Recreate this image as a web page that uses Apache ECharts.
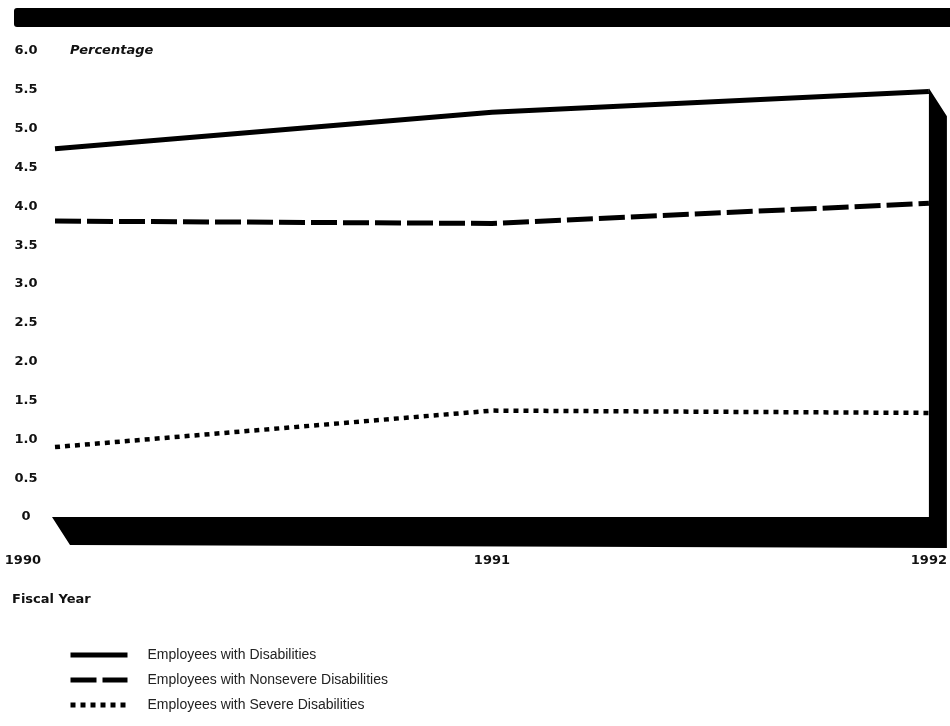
<!DOCTYPE html>
<html>
<head>
<meta charset="utf-8">
<script src="https://cdn.jsdelivr.net/npm/echarts@6/dist/echarts.min.js"></script>
<style>
  html, body { margin: 0; padding: 0; background: #fff; }
  #chart { width: 950px; height: 726px; }
</style>
</head>
<body>
<div id="chart"></div>
<script>
// fiscal years and percentages
var years = ['1990', '1991', '1992'];
var allDisabled = [4.74, 5.21, 5.48];
var nonsevere = [3.81, 3.78, 4.04];
var severe = [0.9, 1.37, 1.34];

var boldFont = '"DejaVu Sans", Verdana, sans-serif';
var font = '"Liberation Sans", Arial, sans-serif';

var chart = echarts.init(document.getElementById('chart'));

var option = {
  backgroundColor: '#fff',
  animation: false,
  color: ['#000', '#000', '#000'],
  title: {
    text: 'Fiscal Year',
    left: 7,
    top: 588,
    textStyle: { fontFamily: boldFont, fontSize: 13, fontWeight: 'bold', color: '#111' }
  },
  legend: {
    orient: 'vertical',
    left: 68,
    top: 648,
    padding: 0,
    itemWidth: 57,
    itemHeight: 14,
    itemGap: 11,
    itemStyle: { opacity: 0 },
    lineStyle: { width: 5 },
    textStyle: { fontFamily: font, fontSize: 14, color: '#222', padding: [0, 0, 0, 15] },
    data: ['Employees with Disabilities', 'Employees with Nonsevere Disabilities', 'Employees with Severe Disabilities']
  },
  grid: { left: 55, right: 20, top: 51, bottom: 209 },
  xAxis: {
    type: 'category',
    boundaryGap: false,
    data: [
      { value: years[0], textStyle: { align: 'right', padding: [0, 14, 0, 0] } },
      years[1],
      years[2]
    ],
    axisLine: { show: false },
    axisTick: { show: false },
    axisLabel: {
      margin: 37,
      fontFamily: boldFont, fontSize: 13, fontWeight: 'bold', color: '#111'
    }
  },
  yAxis: {
    type: 'value',
    min: 0,
    max: 6,
    interval: 0.5,
    name: 'Percentage',
    nameLocation: 'end',
    nameGap: 0,
    nameTextStyle: {
      fontFamily: boldFont, fontSize: 13, fontWeight: 'bold', fontStyle: 'italic', color: '#111',
      align: 'left', verticalAlign: 'middle', padding: [0, 0, 0, 15]
    },
    axisLine: { show: false },
    axisTick: { show: false },
    splitLine: { show: false },
    axisLabel: {
      margin: 29,
      align: 'center',
      fontFamily: boldFont, fontSize: 13, fontWeight: 'bold', color: '#111',
      formatter: function (v) { return v === 0 ? '0' : v.toFixed(1); }
    }
  },
  series: [
    {
      name: 'Employees with Disabilities',
      type: 'line',
      symbol: 'none',
      data: allDisabled,
      z: 3,
      lineStyle: { color: '#000', width: 5 }
    },
    {
      name: 'Employees with Nonsevere Disabilities',
      type: 'line',
      symbol: 'none',
      data: nonsevere,
      z: 3,
      lineStyle: { color: '#000', width: 5, type: [26, 6] }
    },
    {
      name: 'Employees with Severe Disabilities',
      type: 'line',
      symbol: 'none',
      data: severe,
      z: 3,
      lineStyle: { color: '#000', width: 4.5, type: [5, 5], cap: 'butt' }
    }
  ]
};

chart.setOption(option);

// black frame: top band, floor and right wall, placed from the axis scales
var p0 = chart.convertToPixel({ gridIndex: 0 }, [0, 0]);
var p2 = chart.convertToPixel({ gridIndex: 0 }, [2, 0]);
var pTop = chart.convertToPixel({ gridIndex: 0 }, [2, 5.52]);
var dx = 18, dy = 28;

chart.setOption({
  graphic: [
    {
      type: 'rect',
      shape: { x: 14, y: 8, width: 936, height: 19, r: [3, 0, 0, 3] },
      style: { fill: '#000' }
    },
    {
      type: 'polygon',
      z: 1,
      shape: {
        points: [
          [p0[0] - 3, p0[1]],
          [p2[0], p0[1]],
          [p2[0], pTop[1]],
          [p2[0] + dx, pTop[1] + dy],
          [p2[0] + dx, p0[1] + dy + 3],
          [p0[0] - 3 + dx, p0[1] + dy]
        ]
      },
      style: { fill: '#000' }
    }
  ]
});
</script>
</body>
</html>
